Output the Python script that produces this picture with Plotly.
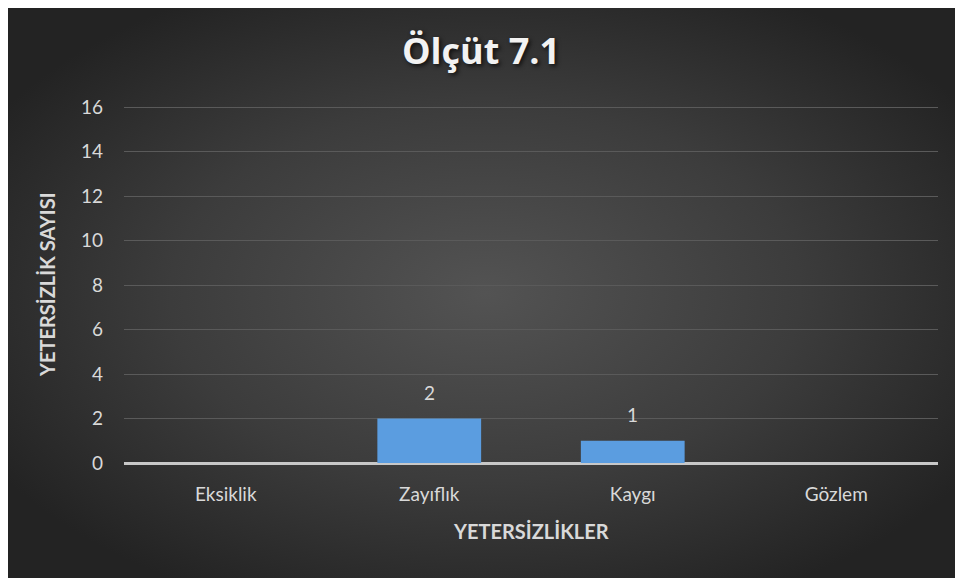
import base64
import plotly.graph_objects as go

categories = ["Eksiklik", "Zayıflık", "Kaygı", "Gözlem"]
values = [0, 2, 1, 0]
y_ticks = [0, 2, 4, 6, 8, 10, 12, 14, 16]
title_text = "Ölçüt 7.1"
x_title = "YETERSİZLİKLER"
y_title = "YETERSİZLİK SAYISI"

# page body has an 8px margin: figure drawn from (8, 8)
OFF = 8
W, H = 963 - OFF, 583 - OFF
YMAX = 16.1
# target pixel positions in the 963x583 window
PL, PR, PB = 124, 938, 463
PT = int(round(PB - (PB - 107) * YMAX / 16))
ML, MR, MT, MB = PL - OFF, W - (PR - OFF), PT - OFF, H - (PB - OFF)
PW, PH = W - ML - MR, H - MT - MB


def fx(p):
    return (p - PL) / PW


def fy(p):
    return (PB - p) / PH


svg = (
    '<svg xmlns="http://www.w3.org/2000/svg" width="955" height="576" viewBox="0 0 955 576" preserveAspectRatio="none">'
    '<defs><radialGradient id="g" cx="50%" cy="50%" r="60%" fx="50%" fy="50%">'
    '<stop offset="0%" stop-color="#535353"/>'
    '<stop offset="55%" stop-color="#3c3c3c"/>'
    '<stop offset="100%" stop-color="#232323"/>'
    '</radialGradient></defs>'
    '<rect width="955" height="576" fill="url(#g)"/></svg>'
)
src = "data:image/svg+xml;base64," + base64.b64encode(svg.encode()).decode()

px0, px1, py0, py1 = 8, 963, 8, 578

fig = go.Figure()
fig.add_trace(go.Bar(
    x=categories, y=values,
    marker=dict(color="#5b9de0", line=dict(width=0)),
    width=0.51,
    hoverinfo="x+y",
))

annotations = []
for c, v in zip(categories, values):
    if v:
        annotations.append(dict(
            x=c, y=v, xref="x", yref="y", text=str(v), showarrow=False,
            yanchor="bottom", yshift=13,
            font=dict(family="Lato, Carlito, sans-serif", size=19, color="#d9d9d9"),
        ))
annotations.append(dict(
    x=0.5, y=fy(531), xref="paper", yref="paper", text=f"<b>{x_title}</b>",
    showarrow=False, xanchor="center", yanchor="middle",
    font=dict(family="Lato, Carlito, sans-serif", size=20, color="#d9d9d9"),
))
annotations.append(dict(
    x=fx(47), y=fy(285), xref="paper", yref="paper", text=f"<b>{y_title}</b>",
    showarrow=False, xanchor="center", yanchor="middle", textangle=-90,
    font=dict(family="Lato, Carlito, sans-serif", size=20, color="#d9d9d9"),
))

fig.update_layout(
    width=W, height=H,
    margin=dict(l=ML, r=MR, t=MT, b=MB, pad=0),
    paper_bgcolor="white",
    plot_bgcolor="rgba(0,0,0,0)",
    showlegend=False,
    title=dict(
        text=f"<b>{title_text}</b>",
        x=(481 - OFF) / W, xref="container", xanchor="center",
        y=1 - (51 - OFF) / H, yref="container", yanchor="middle",
        font=dict(family="Open Sans, sans-serif", size=36, color="#f2f2f2",
                  shadow="2px 2px 4px rgba(0,0,0,0.7)"),
    ),
    images=[dict(
        source=src, xref="paper", yref="paper",
        x=fx(px0), y=fy(py0), sizex=fx(px1) - fx(px0), sizey=fy(py0) - fy(py1),
        xanchor="left", yanchor="top", sizing="stretch", layer="below",
    )],
    xaxis=dict(
        showgrid=False, showline=False, zeroline=False, ticks="",
        tickfont=dict(family="Lato, Carlito, sans-serif", size=19, color="#d9d9d9"),
        ticklabelstandoff=18,
        fixedrange=True,
    ),
    yaxis=dict(
        range=[0, YMAX], tickvals=y_ticks,
        showgrid=True, gridcolor="#5a5a5a", gridwidth=1,
        zeroline=True, zerolinecolor="#c8c8c8", zerolinewidth=2.5,
        showline=False, ticks="",
        tickfont=dict(family="Lato, Carlito, sans-serif", size=19, color="#d9d9d9"),
        ticklabelstandoff=20,
        fixedrange=True,
    ),
    bargap=0.49,
    annotations=annotations,
)

fig.write_html("out.html")
